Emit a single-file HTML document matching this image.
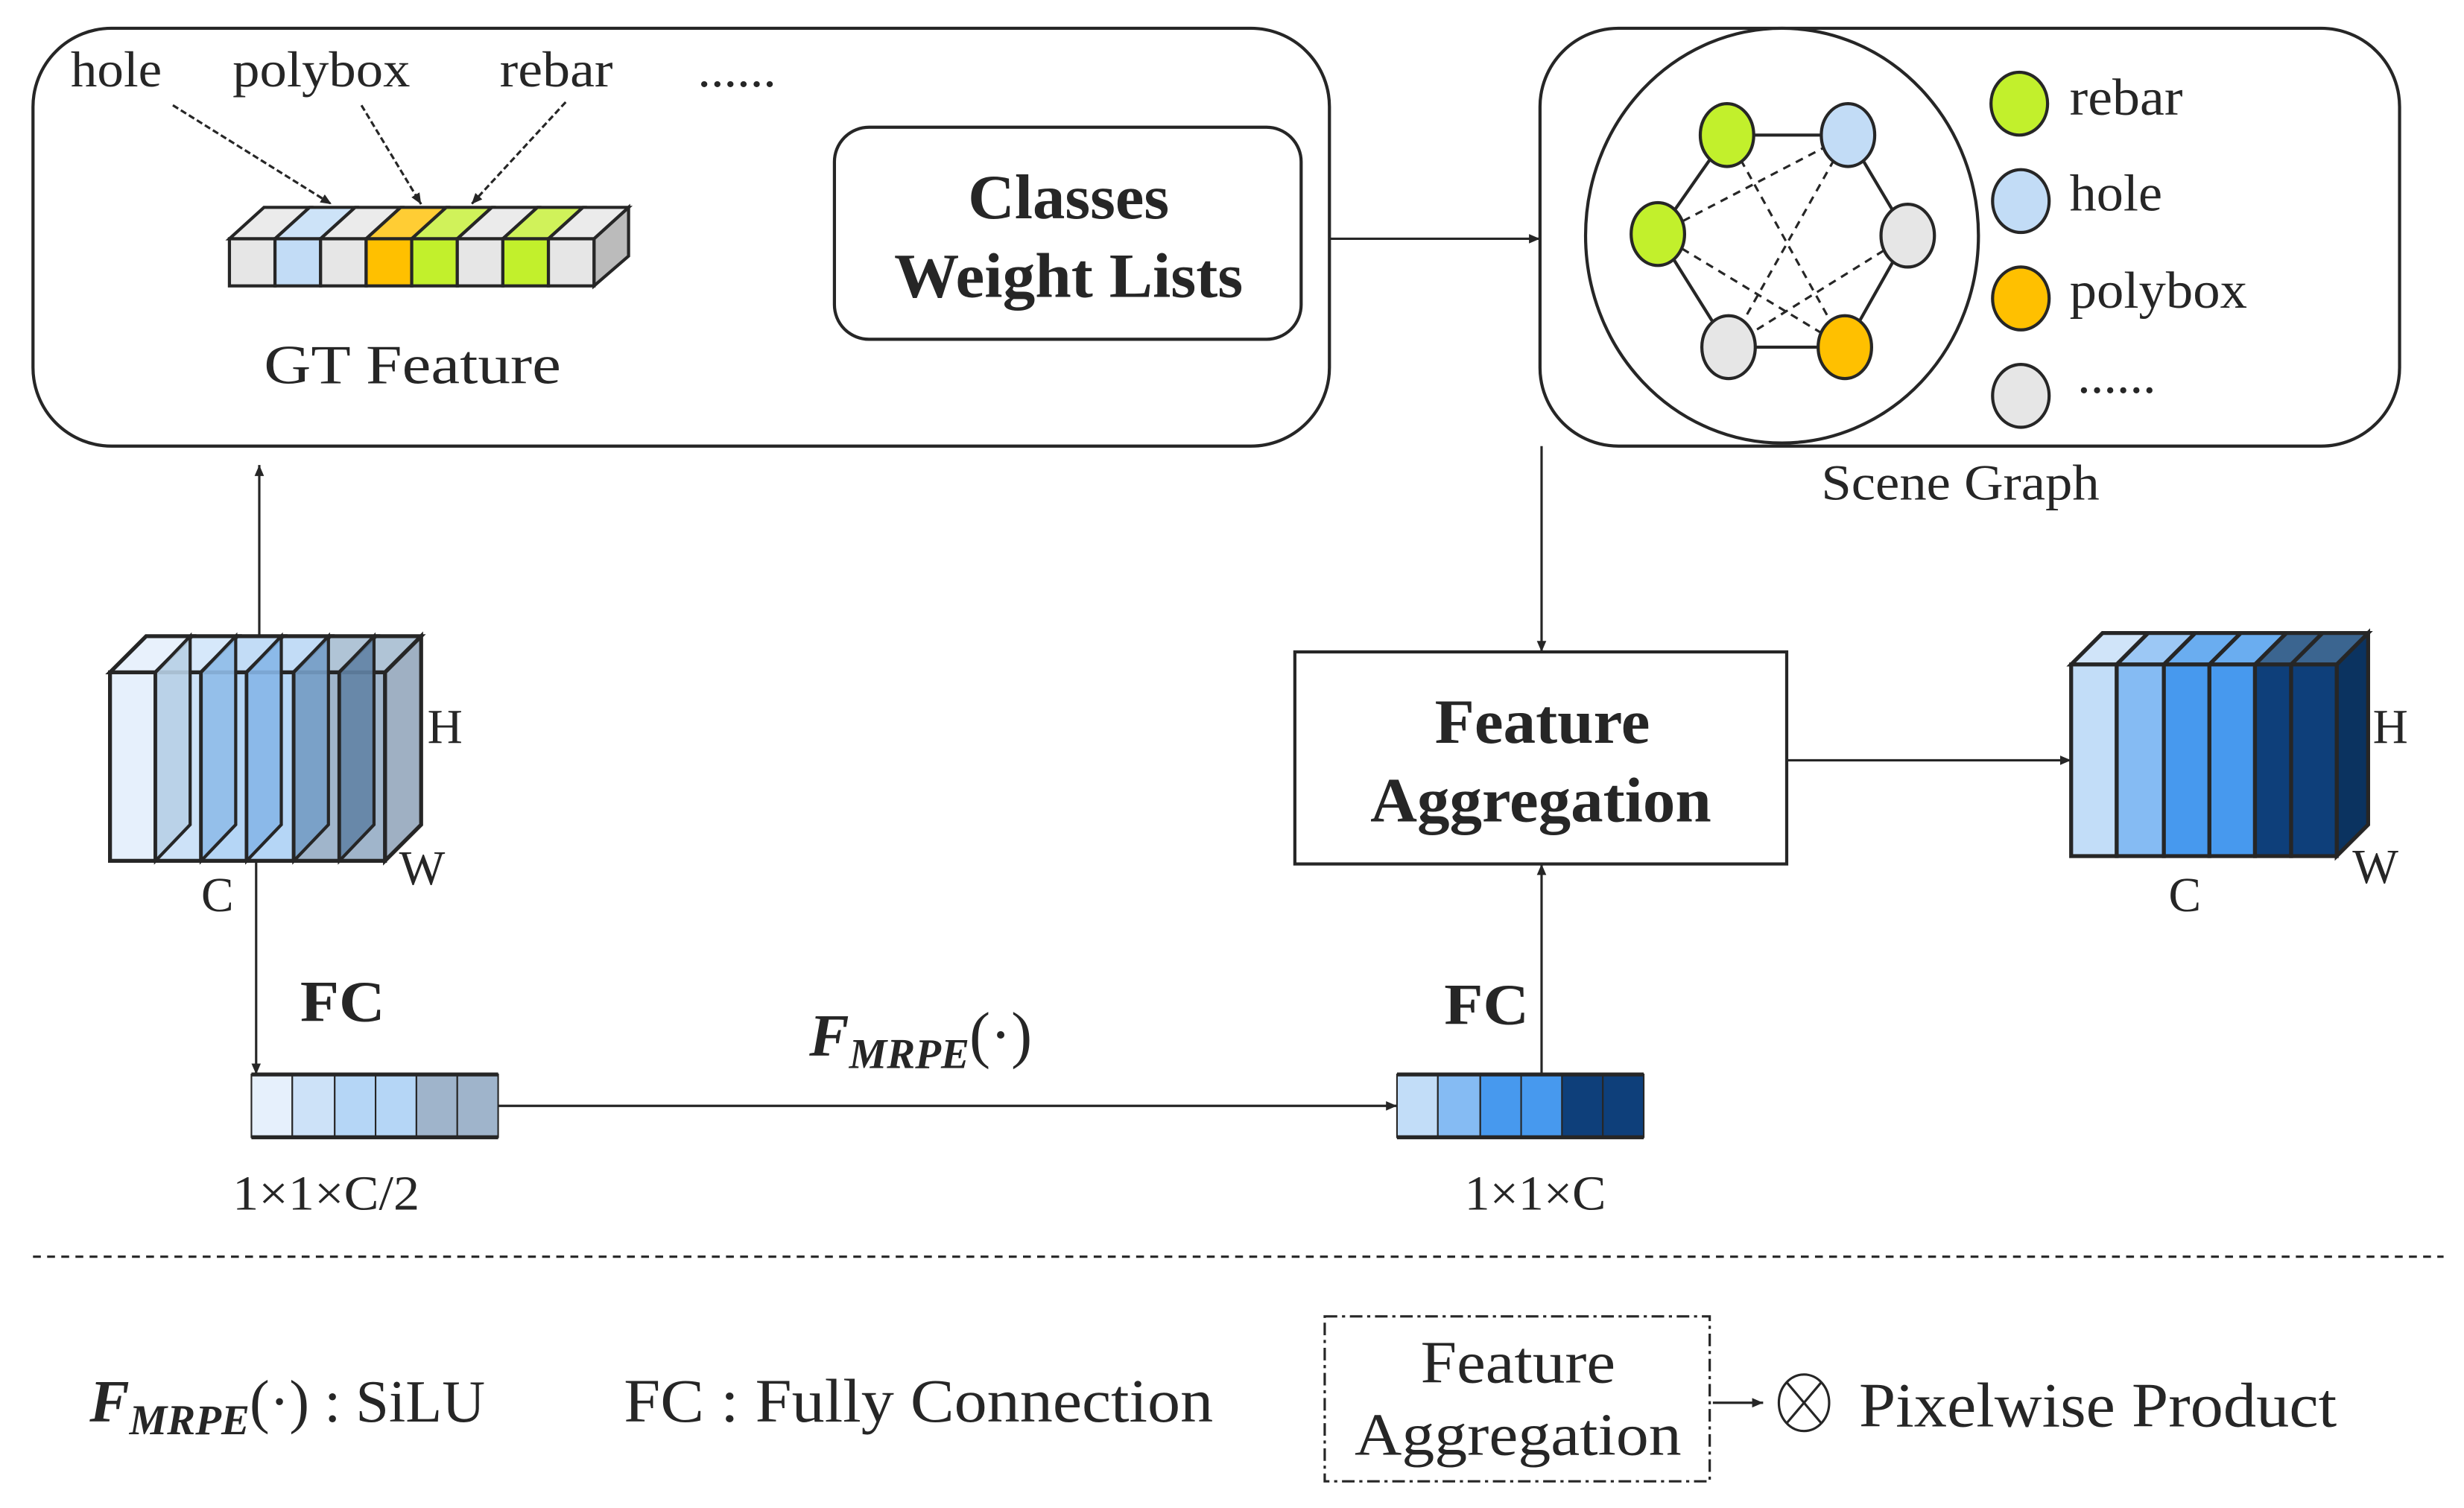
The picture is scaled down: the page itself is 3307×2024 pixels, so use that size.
<!DOCTYPE html>
<html><head><meta charset="utf-8"><style>
html,body{margin:0;padding:0;background:#fff;}
svg{display:block;}
text{font-family:"Liberation Serif",serif;fill:#262626;}
.b{font-weight:bold;}
</style></head><body>
<svg width="3307" height="2024" viewBox="0 0 1568 960" preserveAspectRatio="none" xmlns="http://www.w3.org/2000/svg">
<defs>
<marker id="ah" markerWidth="8" markerHeight="8" refX="7" refY="4" orient="auto" markerUnits="userSpaceOnUse"><path d="M0,1 L7,4 L0,7 Z" fill="#262626"/></marker>
</defs>
<g stroke="#262626" fill="none" stroke-width="2">
<rect x="21" y="18" width="825" height="266" rx="50"/>
<rect x="531" y="81" width="297" height="135" rx="22"/>
<rect x="980" y="18" width="547" height="266" rx="50"/>
<ellipse cx="1134" cy="150" rx="125" ry="132"/>
</g>
<text x="45" y="55" font-size="32" textLength="58" lengthAdjust="spacingAndGlyphs">hole</text>
<text x="148" y="55" font-size="32" textLength="113" lengthAdjust="spacingAndGlyphs">polybox</text>
<text x="318" y="55" font-size="32" textLength="72" lengthAdjust="spacingAndGlyphs">rebar</text>
<text x="444" y="55" font-size="32" textLength="50" lengthAdjust="spacingAndGlyphs">......</text>
<g stroke="#262626" stroke-width="1.5" stroke-dasharray="4,2" fill="none" marker-end="url(#ah)">
<line x1="110" y1="67" x2="211" y2="130"/>
<line x1="230" y1="67" x2="268" y2="130"/>
<line x1="360" y1="65" x2="300" y2="130"/>
</g>
<g stroke="#262626" stroke-width="2">
<polygon points="378,152 400,132 400,163 378,182" fill="#bbbbbb"/>
<polygon points="146,152 168,132 197,132 175,152" fill="#ebebeb"/>
<polygon points="175,152 197,132 226,132 204,152" fill="#cde3f8"/>
<polygon points="204,152 226,132 255,132 233,152" fill="#ebebeb"/>
<polygon points="233,152 255,132 284,132 262,152" fill="#ffcd34"/>
<polygon points="262,152 284,132 313,132 291,152" fill="#d0f25a"/>
<polygon points="291,152 313,132 342,132 320,152" fill="#ebebeb"/>
<polygon points="320,152 342,132 371,132 349,152" fill="#d0f25a"/>
<polygon points="349,152 371,132 400,132 378,152" fill="#ebebeb"/>
<rect x="146" y="152" width="29" height="30" fill="#e6e6e6"/>
<rect x="175" y="152" width="29" height="30" fill="#c2dcf6"/>
<rect x="204" y="152" width="29" height="30" fill="#e6e6e6"/>
<rect x="233" y="152" width="29" height="30" fill="#ffc000"/>
<rect x="262" y="152" width="29" height="30" fill="#c2f02c"/>
<rect x="291" y="152" width="29" height="30" fill="#e6e6e6"/>
<rect x="320" y="152" width="29" height="30" fill="#c2f02c"/>
<rect x="349" y="152" width="29" height="30" fill="#e6e6e6"/>
</g>
<text x="168" y="244" font-size="35" textLength="189" lengthAdjust="spacingAndGlyphs">GT Feature</text>
<text x="616" y="139" font-size="40" class="b" textLength="128" lengthAdjust="spacingAndGlyphs">Classes</text>
<text x="569" y="189" font-size="40" class="b" textLength="222" lengthAdjust="spacingAndGlyphs">Weight Lists</text>
<line x1="846" y1="152" x2="980" y2="152" stroke="#262626" stroke-width="1.5" marker-end="url(#ah)"/>
<g stroke="#262626" stroke-width="2" fill="none">
<polygon points="1099,86 1176,86 1214,150 1174,221 1100,221 1055,149"/>
</g>
<g stroke="#262626" stroke-width="1.5" stroke-dasharray="5,4" fill="none">
<line x1="1055" y1="149" x2="1176" y2="86"/>
<line x1="1055" y1="149" x2="1174" y2="221"/>
<line x1="1099" y1="86" x2="1174" y2="221"/>
<line x1="1176" y1="86" x2="1100" y2="221"/>
<line x1="1214" y1="150" x2="1100" y2="221"/>
</g>
<g stroke="#262626" stroke-width="2">
<ellipse cx="1099" cy="86" rx="17" ry="20" fill="#c2f02c"/>
<ellipse cx="1176" cy="86" rx="17" ry="20" fill="#c2dcf6"/>
<ellipse cx="1214" cy="150" rx="17" ry="20" fill="#e6e6e6"/>
<ellipse cx="1174" cy="221" rx="17" ry="20" fill="#ffc000"/>
<ellipse cx="1100" cy="221" rx="17" ry="20" fill="#e6e6e6"/>
<ellipse cx="1055" cy="149" rx="17" ry="20" fill="#c2f02c"/>
<ellipse cx="1285" cy="66" rx="18" ry="20" fill="#c2f02c"/>
<ellipse cx="1286" cy="128" rx="18" ry="20" fill="#c2dcf6"/>
<ellipse cx="1286" cy="190" rx="18" ry="20" fill="#ffc000"/>
<ellipse cx="1286" cy="252" rx="18" ry="20" fill="#e6e6e6"/>
</g>
<text x="1317" y="73" font-size="33" textLength="72" lengthAdjust="spacingAndGlyphs">rebar</text>
<text x="1317" y="134" font-size="33" textLength="59" lengthAdjust="spacingAndGlyphs">hole</text>
<text x="1317" y="196" font-size="33" textLength="113" lengthAdjust="spacingAndGlyphs">polybox</text>
<text x="1322" y="250" font-size="33" textLength="50" lengthAdjust="spacingAndGlyphs">......</text>
<text x="1159" y="318" font-size="32" textLength="177" lengthAdjust="spacingAndGlyphs">Scene Graph</text>
<line x1="981" y1="284" x2="981" y2="415" stroke="#262626" stroke-width="1.5" marker-end="url(#ah)"/>
<rect x="824" y="415" width="313" height="135" fill="#fff" stroke="#262626" stroke-width="2"/>
<text x="913" y="473" font-size="40" class="b" textLength="137" lengthAdjust="spacingAndGlyphs">Feature</text>
<text x="872" y="523" font-size="40" class="b" textLength="217" lengthAdjust="spacingAndGlyphs">Aggregation</text>
<line x1="1137" y1="484" x2="1318" y2="484" stroke="#262626" stroke-width="1.5" marker-end="url(#ah)"/>
<g stroke="#262626" stroke-width="2.5">
<polygon points="1487,423 1507,403 1507,525 1487,545" fill="#0b3360"/>
<polygon points="1318,423 1338,403 1367,403 1347,423" fill="#d0e4f9"/>
<polygon points="1347,423 1367,403 1397,403 1377,423" fill="#9cc8f5"/>
<polygon points="1377,423 1397,403 1426,403 1406,423" fill="#6aadf0"/>
<polygon points="1406,423 1426,403 1455,403 1435,423" fill="#6aadf0"/>
<polygon points="1435,423 1455,403 1478,403 1458,423" fill="#3b6590"/>
<polygon points="1458,423 1478,403 1507,403 1487,423" fill="#3b6590"/>
<rect x="1318" y="423" width="29" height="122" fill="#c2ddf8"/>
<rect x="1347" y="423" width="30" height="122" fill="#85bbf3"/>
<rect x="1377" y="423" width="29" height="122" fill="#4799ee"/>
<rect x="1406" y="423" width="29" height="122" fill="#4799ee"/>
<rect x="1435" y="423" width="23" height="122" fill="#0e3f7a"/>
<rect x="1458" y="423" width="29" height="122" fill="#0e3f7a"/>
</g>
<text x="1510" y="473" font-size="31">H</text>
<text x="1497" y="562" font-size="31">W</text>
<text x="1380" y="580" font-size="31">C</text>
<!-- left cube -->
<g stroke="#262626" stroke-width="2.5">
<polygon points="245,428 268,405 268,525 245,548" fill="#9fb0c3"/>
<rect x="70" y="428" width="29" height="120" fill="#e6f0fc"/>
<rect x="99" y="428" width="29" height="120" fill="#cde2f8"/>
<rect x="128" y="428" width="29" height="120" fill="#b5d6f6"/>
<rect x="157" y="428" width="30" height="120" fill="#b5d6f6"/>
<rect x="187" y="428" width="29" height="120" fill="#a0b5cb"/>
<rect x="216" y="428" width="29" height="120" fill="#a0b5cb"/>
<polygon points="70,428 93,405 122,405 99,428" fill="#e8f1fc"/>
<polygon points="99,428 122,405 151,405 128,428" fill="#d6e8fa"/>
<polygon points="128,428 151,405 180,405 157,428" fill="#c2dcf6"/>
<polygon points="157,428 180,405 210,405 187,428" fill="#c2dcf6"/>
<polygon points="187,428 210,405 239,405 216,428" fill="#b0c4d6"/>
<polygon points="216,428 239,405 268,405 245,428" fill="#b0c4d6"/>
</g>
<g stroke="#262626" stroke-width="2">
<polygon points="99,428 121,405 121,525 99,548" fill="#b8d0e6" fill-opacity="0.9"/>
<polygon points="128,428 150,405 150,525 128,548" fill="#90bde9" fill-opacity="0.9"/>
<polygon points="157,428 179,405 179,525 157,548" fill="#86b6e8" fill-opacity="0.9"/>
<polygon points="187,428 209,405 209,525 187,548" fill="#759fc8" fill-opacity="0.9"/>
<polygon points="216,428 238,405 238,525 216,548" fill="#6283a5" fill-opacity="0.9"/>
</g>
<text x="272" y="473" font-size="31">H</text>
<text x="254" y="563" font-size="31">W</text>
<text x="128" y="580" font-size="31">C</text>
<line x1="165" y1="405" x2="165" y2="296" stroke="#262626" stroke-width="1.5" marker-end="url(#ah)"/>
<line x1="163" y1="548" x2="163" y2="684" stroke="#262626" stroke-width="1.5" marker-end="url(#ah)"/>
<g stroke="#262626" stroke-width="1">
<rect x="160" y="684" width="26" height="40" fill="#e6f0fc"/>
<rect x="186" y="684" width="27" height="40" fill="#cde2f8"/>
<rect x="213" y="684" width="26" height="40" fill="#b5d6f6"/>
<rect x="239" y="684" width="26" height="40" fill="#b5d6f6"/>
<rect x="265" y="684" width="26" height="40" fill="#9fb4cb"/>
<rect x="291" y="684" width="26" height="40" fill="#9fb4cb"/>
<rect x="889" y="684" width="26" height="40" fill="#c2ddf8"/>
<rect x="915" y="684" width="27" height="40" fill="#85bbf3"/>
<rect x="942" y="684" width="26" height="40" fill="#4799ee"/>
<rect x="968" y="684" width="26" height="40" fill="#4799ee"/>
<rect x="994" y="684" width="26" height="40" fill="#0e3f7a"/>
<rect x="1020" y="684" width="26" height="40" fill="#0e3f7a"/>
</g>
<g stroke="#262626" stroke-width="2.5">
<line x1="160" y1="684" x2="317" y2="684"/><line x1="160" y1="724" x2="317" y2="724"/>
<line x1="889" y1="684" x2="1046" y2="684"/><line x1="889" y1="724" x2="1046" y2="724"/>
</g>
<line x1="317" y1="704" x2="889" y2="704" stroke="#262626" stroke-width="1.5" marker-end="url(#ah)"/>
<line x1="981" y1="684" x2="981" y2="550" stroke="#262626" stroke-width="1.5" marker-end="url(#ah)"/>
<text x="191" y="650" font-size="37" class="b" textLength="54" lengthAdjust="spacingAndGlyphs">FC</text>
<text x="919" y="652" font-size="37" class="b" textLength="54" lengthAdjust="spacingAndGlyphs">FC</text>
<text x="515" y="672" font-size="38" class="b" font-style="italic">F<tspan font-size="27" dy="8">MRPE</tspan><tspan dy="-8" font-style="normal" font-weight="normal" font-size="40">(·)</tspan></text>
<text x="148" y="770" font-size="31" textLength="119" lengthAdjust="spacingAndGlyphs">1×1×C/2</text>
<text x="932" y="770" font-size="31" textLength="90" lengthAdjust="spacingAndGlyphs">1×1×C</text>
<line x1="21" y1="800" x2="1555" y2="800" stroke="#262626" stroke-width="1.5" stroke-dasharray="5,4"/>
<text x="57" y="905" font-size="38"><tspan class="b" font-style="italic">F<tspan font-size="27" dy="8">MRPE</tspan></tspan><tspan dy="-8">(·) : SiLU</tspan></text>
<text x="397" y="905" font-size="39" textLength="375" lengthAdjust="spacingAndGlyphs">FC : Fully Connection</text>
<rect x="843" y="838" width="245" height="105" fill="none" stroke="#262626" stroke-width="1.5" stroke-dasharray="8,3,2,3"/>
<text x="904" y="880" font-size="38" textLength="124" lengthAdjust="spacingAndGlyphs">Feature</text>
<text x="862" y="926" font-size="38" textLength="208" lengthAdjust="spacingAndGlyphs">Aggregation</text>
<line x1="1090" y1="893" x2="1122" y2="893" stroke="#262626" stroke-width="1.5" marker-end="url(#ah)"/>
<g stroke="#262626" stroke-width="1.5" fill="none">
<ellipse cx="1148" cy="893" rx="16" ry="18"/>
<line x1="1137" y1="880" x2="1159" y2="906"/><line x1="1159" y1="880" x2="1137" y2="906"/>
</g>
<text x="1183" y="908" font-size="40" textLength="304" lengthAdjust="spacingAndGlyphs">Pixelwise Product</text>
</svg>
</body></html>
